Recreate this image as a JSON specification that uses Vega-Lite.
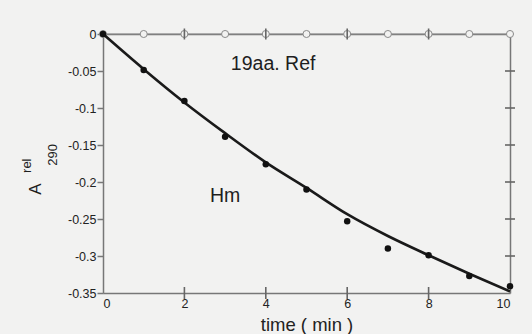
{
  "$schema": "https://vega.github.io/schema/vega-lite/v6.json",
  "width": 407,
  "height": 259,
  "autosize": "none",
  "padding": {"left": 103, "top": 34, "right": 22, "bottom": 41},
  "background": "#f2f2f1",
  "config": {
    "view": {"stroke": null},
    "font": "Liberation Sans",
    "axis": {"domainColor": "#777777", "domainWidth": 1.5, "tickColor": "#777777", "tickWidth": 1.5, "grid": false, "labelFont": "Liberation Sans", "labelColor": "#222222", "labelFontSize": 12.5, "titleFont": "Liberation Sans", "titleFontWeight": "normal", "titleColor": "#222222"}
  },
  "datasets": {
    "ref": [
      {"t": 0, "a": 0}, {"t": 1, "a": 0}, {"t": 2, "a": 0}, {"t": 3, "a": 0}, {"t": 4, "a": 0}, {"t": 5, "a": 0},
      {"t": 6, "a": 0}, {"t": 7, "a": 0}, {"t": 8, "a": 0}, {"t": 9, "a": 0}, {"t": 10, "a": 0}
    ],
    "obs": [
      {"t": 0, "a": 0}, {"t": 1, "a": -0.0486}, {"t": 2, "a": -0.0905}, {"t": 3, "a": -0.139}, {"t": 4, "a": -0.176},
      {"t": 5, "a": -0.21}, {"t": 6, "a": -0.253}, {"t": 7, "a": -0.29}, {"t": 8, "a": -0.299}, {"t": 9, "a": -0.327}, {"t": 10, "a": -0.341}
    ],
    "fit": [
      {"t": 0, "a": 0}, {"t": 1, "a": -0.0475}, {"t": 2, "a": -0.0925}, {"t": 3, "a": -0.134}, {"t": 4, "a": -0.1735},
      {"t": 5, "a": -0.208}, {"t": 6, "a": -0.2435}, {"t": 7, "a": -0.273}, {"t": 8, "a": -0.299}, {"t": 9, "a": -0.324}, {"t": 10, "a": -0.348}
    ],
    "xticksBottom": [{"t": 2, "a": -0.35}, {"t": 4, "a": -0.35}, {"t": 6, "a": -0.35}, {"t": 8, "a": -0.35}],
    "xticksTop": [{"t": 2, "a": 0}, {"t": 4, "a": 0}, {"t": 6, "a": 0}, {"t": 8, "a": 0}],
    "yticksRight": [{"t": 10, "a": -0.05}, {"t": 10, "a": -0.1}, {"t": 10, "a": -0.15}, {"t": 10, "a": -0.2}, {"t": 10, "a": -0.25}, {"t": 10, "a": -0.3}],
    "notes": [
      {"t": 4.18, "a": -0.0486, "label": "19aa. Ref"},
      {"t": 3.0, "a": -0.227, "label": "Hm"}
    ]
  },
  "layer": [
    {
      "data": {"name": "ref"},
      "mark": {"type": "line", "stroke": "#8a8a8a", "strokeWidth": 1.2, "point": {"filled": false, "fill": "#f2f2f1", "stroke": "#8a8a8a", "size": 50, "strokeWidth": 1}},
      "encoding": {
        "x": {"field": "t", "type": "quantitative", "scale": {"domain": [0, 10], "nice": false, "zero": false},
          "axis": {"orient": "bottom", "values": [0, 2, 4, 6, 8, 10], "ticks": false, "labelPadding": 4, "title": "time ( min )", "titleFontSize": 18.5, "titlePadding": 6}},
        "y": {"field": "a", "type": "quantitative", "scale": {"domain": [-0.35, 0], "nice": false, "zero": false},
          "axis": {"orient": "left", "values": [0, -0.05, -0.1, -0.15, -0.2, -0.25, -0.3, -0.35], "labelExpr": "'' + datum.value", "tickSize": 6, "labelPadding": 1, "title": null}}
      }
    },
    {
      "data": {"name": "fit"},
      "mark": {"type": "line", "stroke": "#1a1a1a", "strokeWidth": 2.6, "interpolate": "monotone"},
      "encoding": {
        "x": {"field": "t", "type": "quantitative", "scale": {"domain": [0, 10], "nice": false, "zero": false},
          "axis": {"orient": "top", "ticks": false, "labels": false, "title": null}},
        "y": {"field": "a", "type": "quantitative", "scale": {"domain": [-0.35, 0], "nice": false, "zero": false},
          "axis": {"orient": "right", "ticks": false, "labels": false, "title": null}}
      }
    },
    {
      "data": {"name": "xticksBottom"},
      "mark": {"type": "tick", "orient": "vertical", "color": "#666666", "size": 12, "thickness": 1.6, "opacity": 1},
      "encoding": {
        "x": {"field": "t", "type": "quantitative", "axis": null},
        "y": {"field": "a", "type": "quantitative", "axis": null}
      }
    },
    {
      "data": {"name": "xticksTop"},
      "mark": {"type": "tick", "orient": "vertical", "color": "#666666", "size": 11, "thickness": 1.6, "opacity": 1},
      "encoding": {
        "x": {"field": "t", "type": "quantitative", "axis": null},
        "y": {"field": "a", "type": "quantitative", "axis": null}
      }
    },
    {
      "data": {"name": "yticksRight"},
      "mark": {"type": "tick", "orient": "horizontal", "color": "#666666", "size": 10, "thickness": 1.6, "opacity": 1},
      "encoding": {
        "x": {"field": "t", "type": "quantitative", "axis": null},
        "y": {"field": "a", "type": "quantitative", "axis": null}
      }
    },
    {
      "data": {"name": "obs"},
      "mark": {"type": "circle", "color": "#111111", "size": 42, "opacity": 1},
      "encoding": {
        "x": {"field": "t", "type": "quantitative", "axis": null},
        "y": {"field": "a", "type": "quantitative", "axis": null}
      }
    },
    {
      "data": {"name": "notes"},
      "mark": {"type": "text", "color": "#1e1e1e", "align": "center", "baseline": "alphabetic", "fontSize": 19.5},
      "encoding": {
        "x": {"field": "t", "type": "quantitative", "axis": null},
        "y": {"field": "a", "type": "quantitative", "axis": null},
        "text": {"field": "label"}
      }
    },
    {
      "data": {"values": [
        {"t": -1.64, "a": -0.2095, "label": "A", "size": 17},
        {"t": -1.87, "a": -0.178, "label": "rel", "size": 13},
        {"t": -1.24, "a": -0.1635, "label": "290", "size": 13}
      ]},
      "mark": {"type": "text", "color": "#1e1e1e", "align": "center", "baseline": "middle", "angle": 270},
      "encoding": {
        "x": {"field": "t", "type": "quantitative", "axis": null},
        "y": {"field": "a", "type": "quantitative", "axis": null},
        "text": {"field": "label"},
        "size": {"field": "size", "type": "quantitative", "scale": null, "legend": null}
      }
    }
  ],
  "resolve": {"axis": {"x": "independent", "y": "independent"}}
}
